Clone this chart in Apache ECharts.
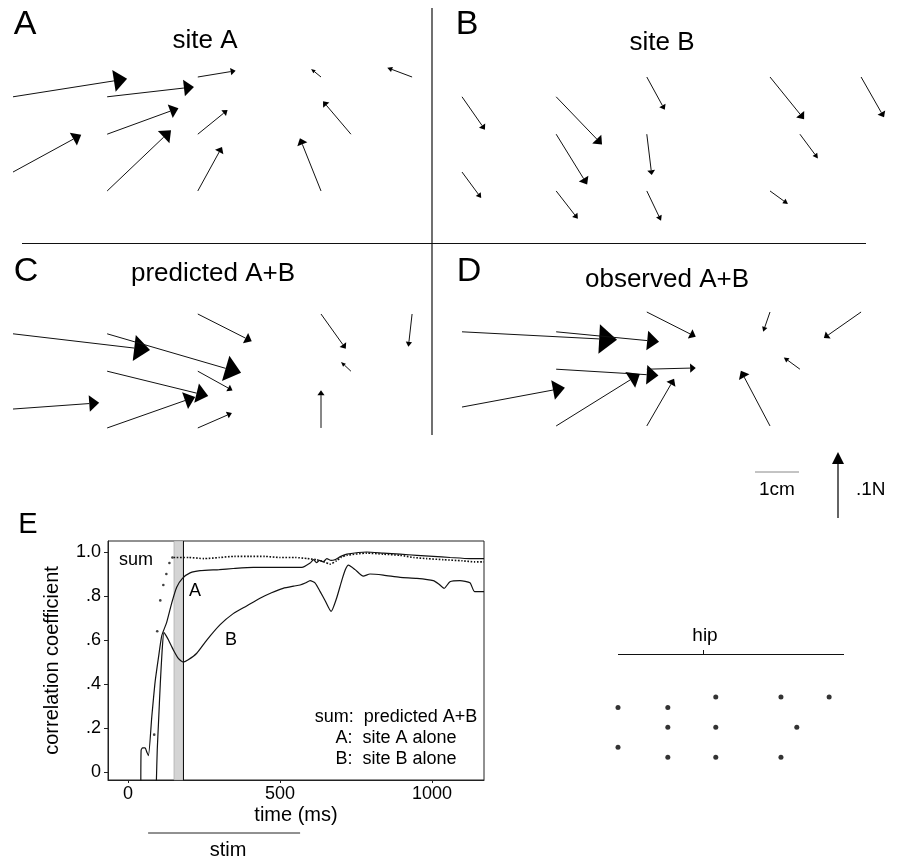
<!DOCTYPE html>
<html><head><meta charset="utf-8">
<script src="https://cdn.jsdelivr.net/npm/echarts@6/dist/echarts.min.js"></script>
<style>html,body{margin:0;padding:0;background:#fff}#c{width:902px;height:860px}</style>
</head><body><div id="c"></div>
<script>
// ---------- force-field data ----------
// stimulation grid points (cm, y up), shared by all force-field panels and the hip map
const gridX = [0, 2.14, 4.20, 7.00, 9.07, 2.14, 4.20, 7.68, 0, 2.14, 4.20, 7.00];
const gridY = [-0.45, -0.45, 0, 0, 0, -1.30, -1.30, -1.30, -2.16, -2.59, -2.59, -2.59];
// force vectors (N)
const siteA_fx = [0.184, 0.140, 0.061, -0.016, -0.040, 0.115, 0.048, -0.045, 0.110, 0.103, 0.039, -0.034];
const siteA_fy = [0.029, 0.016, 0.010, 0.013, 0.015, 0.042, 0.039, 0.053, 0.060, 0.098, 0.071, 0.085];
const siteB_fx = [0.037, 0.074, 0.029, 0.055, 0.037, 0.050, 0.008, 0.029, 0.031, 0.035, 0.023, 0.029];
const siteB_fy = [-0.053, -0.077, -0.053, -0.068, -0.065, -0.081, -0.066, -0.039, -0.042, -0.045, -0.048, -0.021];
const predicted_fx = [0.221, 0.216, 0.087, 0.040, -0.006, 0.163, 0.056, -0.016, 0.139, 0.142, 0.055, 0.000];
const predicted_fy = [-0.026, -0.063, -0.044, -0.056, -0.053, -0.040, -0.031, 0.015, 0.010, 0.050, 0.024, 0.061];
const observed_fx = [0.250, 0.166, 0.079, -0.011, -0.060, 0.165, 0.079, -0.026, 0.166, 0.135, 0.044, -0.047];
const observed_fy = [-0.013, -0.016, -0.040, -0.032, -0.042, -0.010, 0.002, 0.019, 0.031, 0.084, 0.076, 0.089];

// ---------- correlation time course ----------
const timeA = [42, 43, 48, 56, 62, 67, 78, 89, 100, 111, 127, 144, 160, 179, 204, 237, 300, 346, 412, 510, 572, 599, 610, 620, 630, 642, 654, 668, 680, 700, 720, 785, 840, 895, 950, 1004, 1060, 1125, 1171];
const corrA = [-0.05, 0.10, 0.11, 0.11, 0.09, 0.075, 0.25, 0.41, 0.52, 0.62, 0.68, 0.77, 0.84, 0.88, 0.905, 0.915, 0.92, 0.925, 0.93, 0.93, 0.93, 0.95, 0.965, 0.952, 0.962, 0.955, 0.97, 0.962, 0.965, 0.98, 0.99, 1.0, 0.995, 0.99, 0.985, 0.98, 0.975, 0.97, 0.97];
const timeB = [93, 96, 100, 106, 112, 118, 125, 133, 149, 166, 182, 198, 226, 259, 303, 346, 390, 434, 472, 510, 545, 566, 585, 599, 615, 632, 648, 668, 686, 703, 715, 725, 747, 774, 796, 840, 895, 950, 1004, 1022, 1040, 1059, 1092, 1125, 1140, 1171];
const corrB = [-0.05, 0.10, 0.22, 0.40, 0.55, 0.635, 0.62, 0.60, 0.555, 0.515, 0.50, 0.51, 0.54, 0.60, 0.67, 0.72, 0.755, 0.79, 0.815, 0.835, 0.845, 0.85, 0.86, 0.87, 0.86, 0.82, 0.78, 0.73, 0.79, 0.87, 0.92, 0.94, 0.92, 0.89, 0.90, 0.895, 0.885, 0.88, 0.87, 0.855, 0.835, 0.865, 0.87, 0.86, 0.82, 0.82];
const timeSumEarly = [86, 96, 106, 116, 126, 136, 146];
const corrSumEarly = [0.17, 0.64, 0.78, 0.85, 0.90, 0.95, 0.975];
const timeSum = [150, 200, 250, 300, 350, 400, 450, 500, 550, 590, 620, 645, 664, 686, 700, 720, 785, 840, 895, 940, 982, 1037, 1100, 1140, 1171];
const corrSum = [0.975, 0.975, 0.97, 0.975, 0.98, 0.98, 0.98, 0.975, 0.975, 0.97, 0.965, 0.955, 0.945, 0.96, 0.975, 0.985, 0.995, 0.99, 0.985, 0.975, 0.97, 0.965, 0.96, 0.955, 0.955];
const stimWindow = [151, 181];      // shaded window (ms)
const stimTrain = [66, 566];        // stimulus train (ms)
const xTicks = [0, 500, 1000];
const yTicks = [0, 0.2, 0.4, 0.6, 0.8, 1.0];

// ---------- rendering ----------
const FONT = '"Liberation Sans", Arial, Helvetica, sans-serif';
const K = 620 / 44; // display scale: cm per N (0.1 N = 62 px, 1 cm = 44 px)

function arrowItem(params, api) {
  const x = api.value(0), y = api.value(1), fx = api.value(2), fy = api.value(3);
  const p0 = api.coord([x, y]);
  const p1 = api.coord([x + fx * K, y + fy * K]);
  const dx = p1[0] - p0[0], dy = p1[1] - p0[1];
  const L = Math.hypot(dx, dy) || 1;
  const ux = dx / L, uy = dy / L;
  const hl = Math.max(0.115 * L, Math.min(5, 0.35 * L));
  const hw = Math.max(0.19 * L, Math.min(5.5, 0.3 * L)) / 2;
  const bx = p1[0] - ux * hl, by = p1[1] - uy * hl;
  return {
    type: 'group',
    children: [
      { type: 'line', shape: { x1: p0[0], y1: p0[1], x2: bx, y2: by }, style: { stroke: '#111', lineWidth: 1 } },
      { type: 'polygon', shape: { points: [[p1[0], p1[1]], [bx - uy * hw, by + ux * hw], [bx + uy * hw, by - ux * hw]] }, style: { fill: '#000' } }
    ]
  };
}
function zip(a, b) { return a.map((v, i) => [v, b[i]]); }
function fieldData(fx, fy) { return gridX.map((x, i) => [x, gridY[i], fx[i], fy[i]]); }

const panels = [
  { left: 13, top: 77, fx: siteA_fx, fy: siteA_fy },
  { left: 462, top: 77, fx: siteB_fx, fy: siteB_fy },
  { left: 13, top: 314, fx: predicted_fx, fy: predicted_fy },
  { left: 462, top: 312, fx: observed_fx, fy: observed_fy }
];
const grids = [], xAxes = [], yAxes = [], series = [];
panels.forEach((p, i) => {
  grids.push({ left: p.left, top: p.top, width: 440, height: 132 });
  xAxes.push({ gridIndex: i, type: 'value', min: 0, max: 10, show: false });
  yAxes.push({ gridIndex: i, type: 'value', min: -3, max: 0, show: false });
  series.push({ type: 'custom', xAxisIndex: i, yAxisIndex: i, clip: false, silent: true,
    renderItem: arrowItem, encode: { x: 0, y: 1 }, data: fieldData(p.fx, p.fy) });
});
// hip map (index 4)
grids.push({ left: 618, top: 697, width: 232.8, height: 69.84 });
xAxes.push({ gridIndex: 4, type: 'value', min: 0, max: 10, show: false });
yAxes.push({ gridIndex: 4, type: 'value', min: -3, max: 0, show: false });
series.push({ type: 'scatter', xAxisIndex: 4, yAxisIndex: 4, symbol: 'circle', symbolSize: 5, silent: true,
  itemStyle: { color: '#000' }, data: zip(gridX, gridY) });

// correlation plot (index 5)
const txt = { color: '#000', fontFamily: FONT };
grids.push({ left: 108, top: 541, width: 376, height: 239, show: true, borderColor: '#222', borderWidth: 1, backgroundColor: 'transparent' });
xAxes.push({ gridIndex: 5, type: 'value', min: -66, max: 1171,
  axisLine: { show: true, onZero: false, lineStyle: { color: '#222' } },
  axisTick: { show: true, customValues: xTicks, length: 3, lineStyle: { color: '#222' } },
  axisLabel: { customValues: xTicks, fontSize: 18, margin: 5, ...txt, formatter: v => String(v) },
  splitLine: { show: false },
  name: 'time (ms)', nameLocation: 'middle', nameGap: 25, nameTextStyle: { fontSize: 20, ...txt } });
yAxes.push({ gridIndex: 5, type: 'value', min: -0.036, max: 1.05,
  axisLine: { show: true, onZero: false, lineStyle: { color: '#222' } },
  axisTick: { show: true, customValues: yTicks, length: 4, lineStyle: { color: '#222' } },
  axisLabel: { customValues: yTicks, fontSize: 18, margin: 7, ...txt,
    formatter: v => v === 0 ? '0' : (Math.abs(v - 1) < 1e-9 ? '1.0' : '.' + Math.round(v * 10)) },
  splitLine: { show: false },
  name: 'correlation coefficient', nameLocation: 'middle', nameGap: 46, nameTextStyle: { fontSize: 20, ...txt } });

series.push({ type: 'line', name: 'A', xAxisIndex: 5, yAxisIndex: 5, data: zip(timeA, corrA), showSymbol: false,
  clip: true, smooth: 0.2, lineStyle: { color: '#111', width: 1.2 }, silent: true,
  markArea: { silent: true, itemStyle: { color: '#d4d4d4', borderColor: '#999', borderWidth: 0.5 },
    data: [[{ xAxis: stimWindow[0] }, { xAxis: stimWindow[1] }]] },
  markLine: { silent: true, symbol: 'none', label: { show: false }, lineStyle: { color: '#111', type: 'solid', width: 1 },
    data: [{ xAxis: stimWindow[1] }] } });
series.push({ type: 'line', name: 'B', xAxisIndex: 5, yAxisIndex: 5, data: zip(timeB, corrB), showSymbol: false,
  clip: true, smooth: 0.2, lineStyle: { color: '#111', width: 1.2 }, silent: true });
series.push({ type: 'line', name: 'sum', xAxisIndex: 5, yAxisIndex: 5, data: zip(timeSum, corrSum), showSymbol: false,
  clip: true, smooth: 0.2, lineStyle: { color: '#111', width: 1.6, type: [1.6, 1.6] }, silent: true });
series.push({ type: 'scatter', name: 'sum', xAxisIndex: 5, yAxisIndex: 5, data: zip(timeSumEarly, corrSumEarly),
  symbolSize: 2.6, itemStyle: { color: '#111' }, silent: true });

// stimulus train bar (index 6)
grids.push({ left: 108, top: 828, width: 376, height: 10 });
xAxes.push({ gridIndex: 6, type: 'value', min: -66, max: 1171, show: false });
yAxes.push({ gridIndex: 6, type: 'value', min: -1, max: 1, show: false });
series.push({ type: 'line', xAxisIndex: 6, yAxisIndex: 6, data: [[stimTrain[0], 0], [stimTrain[1], 0]],
  showSymbol: false, lineStyle: { color: '#222', width: 1 }, silent: true });

function T(text, x, y, size, align) {
  return { type: 'text', x: x, y: y, silent: true,
    style: { text: text, fontSize: size, fontFamily: FONT, fill: '#000', align: align || 'center', verticalAlign: 'middle' } };
}
function Ln(x1, y1, x2, y2, color, w) {
  return { type: 'line', silent: true, shape: { x1, y1, x2, y2 }, style: { stroke: color || '#111', lineWidth: w || 1 } };
}
const graphic = [
  Ln(432, 8, 432, 435, '#111', 1.2),
  Ln(22, 243.5, 866, 243.5, '#111', 1.2),
  T('A', 25, 25, 34), T('site A', 205, 41, 26),
  T('B', 467, 25, 34), T('site B', 662, 43, 26),
  T('C', 26, 272, 34), T('predicted A+B', 213, 274, 26),
  T('D', 469, 272, 34), T('observed A+B', 667, 280, 26),
  T('E', 28, 525, 29),
  // scale bars
  Ln(755, 472, 799, 472, '#888', 1),
  T('1cm', 777, 490, 19),
  Ln(838, 518, 838, 462, '#111', 1.3),
  { type: 'polygon', silent: true, shape: { points: [[838, 452], [832, 464], [844, 464]] }, style: { fill: '#000' } },
  T('.1N', 856, 490, 19, 'left'),
  // hip reference
  T('hip', 705, 636, 19),
  Ln(618, 654.5, 844, 654.5, '#111', 1.2),
  Ln(703.5, 650, 703.5, 654.5, '#111', 1),
  // plot annotations
  T('sum', 136, 560, 18), T('A', 195, 591, 18), T('B', 231, 640, 18),
  T('sum:  predicted A+B', 396, 717, 18),
  T('A:  site A alone', 396, 738, 18),
  T('B:  site B alone', 396, 759, 18),
  T('stim', 228, 850, 20)
];

const chart = echarts.init(document.getElementById('c'), null, { renderer: 'canvas' });
chart.setOption({
  animation: false,
  backgroundColor: '#fff',
  grid: grids, xAxis: xAxes, yAxis: yAxes, series: series, graphic: graphic
});
</script></body></html>
